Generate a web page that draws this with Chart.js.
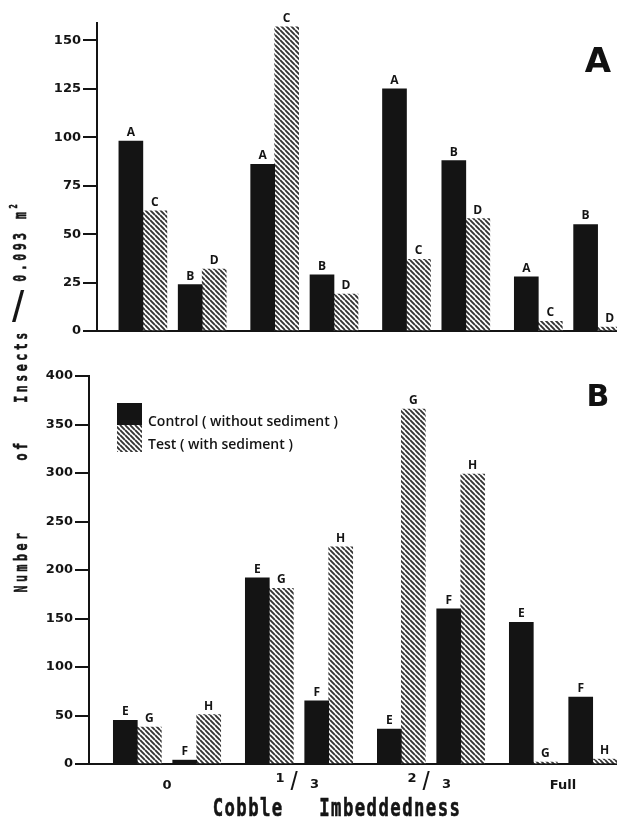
<!DOCTYPE html>
<html>
<head>
<meta charset="utf-8">
<title>Insects per 0.093 m² by cobble imbeddedness</title>
<script src="https://cdn.jsdelivr.net/npm/chart.js@4.4.1/dist/chart.umd.min.js"></script>
<style>
  html, body { margin: 0; padding: 0; background: #fff; }
  body { width: 617px; height: 820px; position: relative; overflow: hidden; }
  canvas { position: absolute; left: 0; }
  #chartA { top: 0; }
  #chartB { top: 350px; }
  .lettering {
    position: absolute; white-space: pre; line-height: 1; color: #151515;
    font-family: "DejaVu Sans Mono", "Liberation Mono", monospace; font-weight: bold;
    -webkit-text-stroke: 0.6px #151515;
  }
  .ytitle { font-size: 18px; letter-spacing: 5.3px; transform: translate(-50%, -50%) rotate(-90deg) scaleX(0.65); }
  .lettering sup { font-size: 60%; vertical-align: 0.75em; letter-spacing: 0; }
  .slash { position: absolute; line-height: 1; color: #151515; font-family: "Liberation Sans", sans-serif; }
  .tag {
    position: absolute; line-height: 1; color: #111;
    font-family: "DejaVu Sans", sans-serif; font-weight: bold;
    transform: translate(-50%, -50%);
  }
</style>
</head>
<body>
<canvas id="chartA" width="617" height="350"></canvas>
<canvas id="chartB" width="617" height="470"></canvas>

<!-- shared vertical axis title, read bottom to top -->
<div class="lettering ytitle" style="left:21px;top:561px;">Number</div>
<div class="lettering ytitle" style="left:21px;top:450px;">of</div>
<div class="lettering ytitle" style="left:21px;top:366px;">Insects</div>
<div class="slash" style="left:18px;top:307px;font-size:44px;transform:translate(-50%,-50%);">/</div>
<div class="lettering ytitle" style="left:19px;top:243px;">0.093 m<sup>2</sup></div>

<!-- horizontal axis title -->
<div class="lettering" style="left:337px;top:808px;font-size:24px;letter-spacing:2px;transform:translate(-50%,-50%) scaleX(0.72);">Cobble   Imbeddedness</div>

<div class="tag" style="left:598px;top:60px;font-size:34px;">A</div>
<div class="tag" style="left:598px;top:396px;font-size:30px;">B</div>

<script>
// Imbeddedness levels on the horizontal axis; each level has two samples
const imbeddedness = ['0', '1/3', '2/3', 'Full'];
const seriesNames = ['Control ( without sediment )', 'Test ( with sediment )'];

// Panel A: insects per 0.093 m², two samples per level
const controlA = [98, 24, 86, 29, 125, 88, 28, 55];
const testA    = [62, 32, 157, 19, 37, 58, 5, 2];
const controlLettersA = ['A', 'B', 'A', 'B', 'A', 'B', 'A', 'B'];
const testLettersA    = ['C', 'D', 'C', 'D', 'C', 'D', 'C', 'D'];
const ticksA = [0, 25, 50, 75, 100, 125, 150];

// Panel B
const controlB = [45, 4, 192, 65, 36, 160, 146, 69];
const testB    = [38, 51, 181, 224, 366, 299, 2, 5];
const controlLettersB = ['E', 'F', 'E', 'F', 'E', 'F', 'E', 'F'];
const testLettersB    = ['G', 'H', 'G', 'H', 'G', 'H', 'G', 'H'];
const ticksB = [0, 50, 100, 150, 200, 250, 300, 350, 400];

const INK = '#141414';
const PAIR_HALF = 0.225;   // half the distance between the two samples of one level (level units)
const BAR_PX = 24;

// x value of each sample: level index, shifted left/right for first/second sample
function placed(values) {
  return values.map((v, i) => ({
    x: Math.floor(i / 2) + (i % 2 ? PAIR_HALF : -PAIR_HALF),
    y: v
  }));
}

// diagonal "\\" hatching for the test series
function makeHatch() {
  const s = 5;
  const tile = document.createElement('canvas');
  tile.width = s; tile.height = s;
  const g = tile.getContext('2d');
  g.fillStyle = '#fff';
  g.fillRect(0, 0, s, s);
  g.strokeStyle = '#333';
  g.lineWidth = 1.9;
  g.beginPath();
  for (let k = -1; k <= 1; k++) { g.moveTo(0, k * s); g.lineTo(s, (k + 1) * s); }
  g.stroke();
  return g.createPattern(tile, 'repeat');
}
const hatch = makeHatch();

// letter codes above each bar
const barLetters = {
  id: 'barLetters',
  afterDatasetsDraw(chart) {
    const ctx = chart.ctx;
    ctx.save();
    ctx.font = 'bold 12px "Open Sans", "DejaVu Sans", sans-serif';
    ctx.fillStyle = INK;
    ctx.textAlign = 'center';
    ctx.textBaseline = 'alphabetic';
    chart.data.datasets.forEach((ds, di) => {
      chart.getDatasetMeta(di).data.forEach((bar, i) => {
        ctx.fillText(ds.letters[i], bar.x, bar.y - 5);
      });
    });
    ctx.restore();
  }
};

// series key in the upper left of panel B
const seriesKey = {
  id: 'seriesKey',
  afterDraw(chart) {
    const { ctx, chartArea } = chart;
    const x = chartArea.left + 28, y = chartArea.top + 27;
    const heights = [22, 27];
    const textY = [19, 42];
    ctx.save();
    let top = y;
    chart.data.datasets.forEach((ds, i) => {
      ctx.fillStyle = ds.backgroundColor;
      ctx.fillRect(x, top, 25, heights[i]);
      top += heights[i];
      ctx.fillStyle = INK;
      ctx.font = '600 14px "Open Sans", sans-serif';
      ctx.textAlign = 'left';
      ctx.textBaseline = 'middle';
      ctx.fillText(ds.label, x + 31, y + textY[i]);
    });
    ctx.restore();
  }
};

// level names under panel B; fractions are lettered as numerator / denominator
const levelNames = {
  id: 'levelNames',
  afterDraw(chart) {
    const { ctx } = chart;
    const xs = chart.scales.x;
    const base = xs.top;
    ctx.save();
    ctx.fillStyle = INK;
    ctx.textAlign = 'center';
    ctx.textBaseline = 'middle';
    imbeddedness.forEach((name, g) => {
      const cx = xs.getPixelForValue(g);
      const parts = name.split('/');
      if (parts.length === 2) {
        ctx.font = 'bold 13px "DejaVu Sans", sans-serif';
        ctx.fillText(parts[0], cx - 19, base + 15);
        ctx.fillText(parts[1], cx + 15.5, base + 21);
        ctx.font = '26px "Liberation Sans", sans-serif';
        ctx.fillText('/', cx - 5, base + 19);
      } else {
        ctx.font = 'bold 13px "DejaVu Sans", sans-serif';
        ctx.fillText(name, cx, base + 22);
      }
    });
    ctx.restore();
  }
};

function panel(id, o, extraPlugins) {
  return new Chart(document.getElementById(id), {
    type: 'bar',
    data: {
      datasets: [
        { label: seriesNames[0], data: placed(o.control), letters: o.controlLetters,
          backgroundColor: INK, borderWidth: 0, barThickness: BAR_PX },
        { label: seriesNames[1], data: placed(o.test), letters: o.testLetters,
          backgroundColor: hatch, borderWidth: 0, barThickness: BAR_PX }
      ]
    },
    options: {
      responsive: false,
      animation: false,
      devicePixelRatio: 1,
      layout: { padding: { top: o.padTop, left: 0, right: 0, bottom: 0 } },
      plugins: { legend: { display: false }, tooltip: { enabled: false } },
      scales: {
        x: {
          type: 'linear', min: o.xMin, max: o.xMax, offset: false,
          grid: { display: false },
          ticks: { display: false },
          border: { display: true, color: INK, width: 2 },
          afterFit(s) { s.height = o.xAxisHeight; }
        },
        y: {
          min: 0, max: o.yMax,
          afterBuildTicks(s) { s.ticks = o.ticks.map(v => ({ value: v })); },
          ticks: { color: INK, padding: 2, font: { family: '"DejaVu Sans", sans-serif', weight: 'bold', size: 13 } },
          grid: { drawOnChartArea: false, drawTicks: true, tickLength: 14, color: INK, lineWidth: 2 },
          border: { display: true, color: INK, width: 2 },
          afterFit(s) { s.width = o.yAxisWidth; }
        }
      }
    },
    plugins: [barLetters].concat(extraPlugins)
  });
}

panel('chartA', {
  control: controlA, test: testA,
  controlLetters: controlLettersA, testLetters: testLettersA,
  ticks: ticksA, yMax: 159,
  xMin: -0.573, xMax: 3.372,
  padTop: 23, xAxisHeight: 19, yAxisWidth: 97
}, []);

panel('chartB', {
  control: controlB, test: testB,
  controlLetters: controlLettersB, testLetters: testLettersB,
  ticks: ticksB, yMax: 400,
  xMin: -0.591, xMax: 3.409,
  padTop: 26, xAxisHeight: 56, yAxisWidth: 89
}, [seriesKey, levelNames]);
</script>
</body>
</html>
